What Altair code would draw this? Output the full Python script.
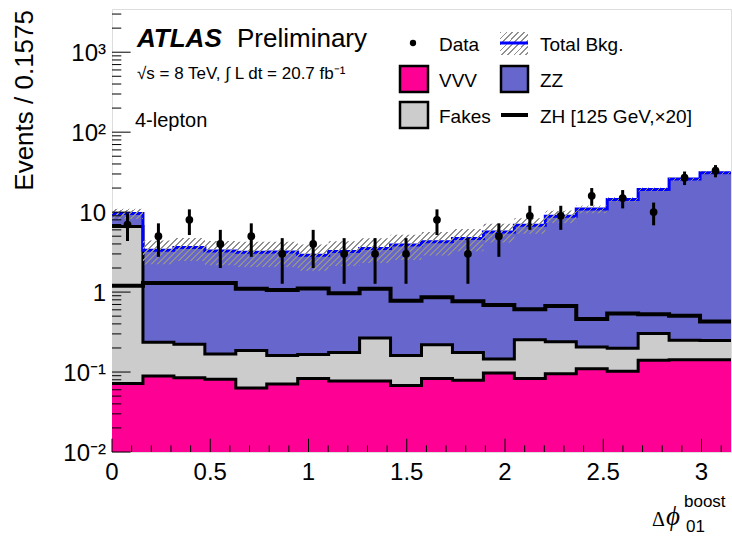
import altair as alt
import pandas as pd

# ---------------------------------------------------------------- data
BIN_WIDTH = 0.1575
N_BINS = 20
edges = [round(i * BIN_WIDTH, 5) for i in range(N_BINS + 1)]
centers = [round((i + 0.5) * BIN_WIDTH, 5) for i in range(N_BINS)]

# expected events per bin, stacked bottom to top
vvv = [0.072, 0.089, 0.085, 0.081, 0.063, 0.071, 0.083, 0.077, 0.077, 0.068,
       0.083, 0.079, 0.097, 0.083, 0.095, 0.110, 0.102, 0.140, 0.142, 0.142]
fakes = [6.53, 0.147, 0.138, 0.087, 0.123, 0.090, 0.083, 0.099, 0.189, 0.093,
         0.137, 0.097, 0.049, 0.170, 0.145, 0.096, 0.096, 0.163, 0.108, 0.106]
zz = [3.0, 3.09, 3.38, 3.10, 2.97, 3.0, 2.73, 3.05, 3.24, 3.71,
      4.04, 4.51, 5.51, 6.62, 8.66, 10.7, 14.2, 18.9, 25.7, 30.8]
# signal overlay (scaled by 20, not stacked)
zh_x20 = [1.2, 1.3, 1.3, 1.3, 1.1, 1.06, 1.11, 0.97, 1.1, 0.78,
          0.86, 0.77, 0.69, 0.61, 0.67, 0.46, 0.54, 0.53, 0.505, 0.43]
# absolute uncertainty on the total background
bkg_unc = [1.4, 1.1, 1.15, 1.1, 1.1, 1.1, 1.05, 1.1, 1.2, 1.35,
           1.4, 1.45, 1.5, 1.5, 1.6, 1.2, 1.0, 1.1, 1.5, 1.5]
# observed data
data_counts = [7, 5, 8, 4, 5, 3, 4, 3, 3, 3, 8, 3, 5, 9, 9, 16, 15, 10, 27, 33]
data_err = [2.65, 2.24, 2.83, 2.0, 2.24, 1.73, 2.0, 1.73, 1.73, 1.73,
            2.83, 1.73, 2.24, 3.0, 3.0, 4.0, 3.87, 3.16, 5.2, 5.74]

# axis ticks and tick labels
x_major = [0, 0.5, 1, 1.5, 2, 2.5, 3]
x_labels = ["0", "0.5", "1", "1.5", "2", "2.5", "3"]
x_minor = [round(0.1 * i, 1) for i in range(1, 32) if i % 5]
y_major = [0.01, 0.1, 1, 10, 100, 1000]
y_labels = ["10⁻²", "10⁻¹", "1", "10", "10²", "10³"]
y_minor = [m * d for d in [0.01, 0.1, 1, 10, 100, 1000] for m in range(2, 10)
           if m * d < 3470]

# ---------------------------------------------------------------- tables
W, H = 619, 443
YMIN, YMAX = 0.01, 3470
PAD_L, PAD_T = 112, 9

fakes_top = [a + b for a, b in zip(vvv, fakes)]
total = [a + b for a, b in zip(fakes_top, zz)]
band_lo = [t - u for t, u in zip(total, bkg_unc)]
band_hi = [t + u for t, u in zip(total, bkg_unc)]


def step(values):
    return values + [values[-1]]


hist = pd.DataFrame({
    "x": edges,
    "vvv": step(vvv),
    "fakes_top": step(fakes_top),
    "total": step(total),
    "zh": step(zh_x20),
    "lo": step(band_lo),
    "hi": step(band_hi),
    "base": [YMIN] * (N_BINS + 1),
})
points = pd.DataFrame({
    "x": centers,
    "n": data_counts,
    "lo": [n - e for n, e in zip(data_counts, data_err)],
    "hi": [n + e for n, e in zip(data_counts, data_err)],
})

xs = alt.Scale(domain=[0, edges[-1]], nice=False, zero=False)
ys = alt.Scale(type="log", domain=[YMIN, YMAX], nice=False)

FONT = "Liberation Sans"


def hatch_fill(w_px, h_px, spacing=6.0, line_frac=0.28, color="#909090", k=1.2):
    """Diagonal '////' hatching as a striped linear gradient over the mark's box."""
    r = h_px / w_px
    span = w_px * k * (1 + r * r)
    period = spacing / span
    clear = "rgba(0,0,0,0)"
    stops = []
    t = 0.0
    while t < 1.0:
        b = min(t + period * line_frac, 1.0)
        c = min(t + period, 1.0)
        stops += [
            alt.GradientStop(color=color, offset=round(t, 5)),
            alt.GradientStop(color=color, offset=round(b, 5)),
            alt.GradientStop(color=clear, offset=round(b, 5)),
            alt.GradientStop(color=clear, offset=round(c, 5)),
        ]
        t += period
    return alt.LinearGradient(gradient="linear", stops=stops,
                              x1=0, y1=0, x2=k, y2=round(k * r, 4))


base = alt.Chart(hist)
X = alt.X("x:Q", scale=xs, axis=None)


def area(top, color):
    return base.mark_area(interpolate="step-after", color=color, opacity=1).encode(
        x=X, y=alt.Y(f"{top}:Q", scale=ys, axis=None), y2="base:Q")


def outline(field, color="black", width=3.0):
    return base.mark_line(interpolate="step-after", color=color, strokeWidth=width,
                          strokeJoin="miter").encode(
        x=X, y=alt.Y(f"{field}:Q", scale=ys, axis=None))


zz_area = area("total", "#6666cc")
fakes_area = area("fakes_top", "#cccccc")
vvv_area = area("vvv", "#ff0094")

band = base.mark_area(interpolate="step-after", fill=hatch_fill(W, 100),
                      strokeWidth=0).encode(
    x=X, y=alt.Y("lo:Q", scale=ys, axis=None), y2="hi:Q")

err = alt.Chart(points).mark_rule(color="black", strokeWidth=3).encode(
    x=alt.X("x:Q", scale=xs, axis=None),
    y=alt.Y("lo:Q", scale=ys, axis=None), y2="hi:Q")
dots = alt.Chart(points).mark_circle(color="black", size=60, opacity=1).encode(
    x=alt.X("x:Q", scale=xs, axis=None),
    y=alt.Y("n:Q", scale=ys, axis=None))

# inward ticks
y_tick_major = alt.Chart(pd.DataFrame({"v": y_major})).mark_rule(
    color="black", strokeWidth=1).encode(
    y=alt.Y("v:Q", scale=ys, axis=None), x=alt.value(0), x2=alt.value(18.6))
y_tick_minor = alt.Chart(pd.DataFrame({"v": y_minor})).mark_rule(
    color="black", strokeWidth=1).encode(
    y=alt.Y("v:Q", scale=ys, axis=None), x=alt.value(0), x2=alt.value(9.3))
x_tick_major = alt.Chart(pd.DataFrame({"v": x_major})).mark_rule(
    color="black", strokeWidth=1).encode(
    x=alt.X("v:Q", scale=xs, axis=None), y=alt.value(H), y2=alt.value(H - 13.3))
x_tick_minor = alt.Chart(pd.DataFrame({"v": x_minor})).mark_rule(
    color="black", strokeWidth=1).encode(
    x=alt.X("v:Q", scale=xs, axis=None), y=alt.value(H), y2=alt.value(H - 6.6))

# tick labels
y_tick_text = alt.Chart(pd.DataFrame({"v": y_major, "t": y_labels})).mark_text(
    align="right", baseline="middle", fontSize=24, font=FONT, color="black",
    dy=2).encode(
    y=alt.Y("v:Q", scale=ys, axis=None), x=alt.value(-6), text="t:N")
x_tick_text = alt.Chart(pd.DataFrame({"v": x_major, "t": x_labels})).mark_text(
    align="center", baseline="alphabetic", fontSize=24, font=FONT,
    color="black").encode(
    x=alt.X("v:Q", scale=xs, axis=None), y=alt.value(H + 28), text="t:N")

# ---------------------------------------------------------------- annotations
one = pd.DataFrame({"a": [0]})


def text(s, x, y, size, **kw):
    props = dict(text=s, align="left", baseline="alphabetic", fontSize=size,
                 font=FONT, color="black")
    props.update(kw)
    return alt.Chart(one).mark_text(**props).encode(
        x=alt.value(x - PAD_L), y=alt.value(y - PAD_T))


def box(x0, y0, x1, y1, fill, stroke="black", sw=2.5):
    return alt.Chart(one).mark_rect(fill=fill, stroke=stroke, strokeWidth=sw).encode(
        x=alt.value(x0 - PAD_L), x2=alt.value(x1 - PAD_L),
        y=alt.value(y0 - PAD_T), y2=alt.value(y1 - PAD_T))


def hline(x0, x1, y, color, sw):
    return alt.Chart(one).mark_rule(color=color, strokeWidth=sw).encode(
        x=alt.value(x0 - PAD_L), x2=alt.value(x1 - PAD_L), y=alt.value(y - PAD_T))


notes = [
    text("ATLAS", 137, 47, 26, fontWeight="bold", fontStyle="italic"),
    text("Preliminary", 237, 47, 26),
    text("√s = 8 TeV, ∫ L dt = 20.7 fb⁻¹", 137, 79, 17),
    text("4-lepton", 135, 127, 20),
    # legend
    alt.Chart(one).mark_circle(color="black", size=40, opacity=1).encode(
        x=alt.value(413 - PAD_L), y=alt.value(43 - PAD_T)),
    text("Data", 439, 51, 19),
    alt.Chart(one).mark_rect(fill=hatch_fill(28, 23), strokeWidth=0).encode(
        x=alt.value(500 - PAD_L), x2=alt.value(528 - PAD_L),
        y=alt.value(32 - PAD_T), y2=alt.value(55 - PAD_T)),
    hline(500, 528, 43, "#0000ff", 3),
    text("Total Bkg.", 540, 51, 19),
    box(400, 66, 428, 92, "#ff0094"),
    text("VVV", 439, 87, 19),
    box(501, 66, 528, 92, "#6666cc"),
    text("ZZ", 540, 87, 19),
    box(400, 102, 428, 128, "#cccccc"),
    text("Fakes", 439, 123, 19),
    hline(501, 528, 115, "black", 4),
    text("ZH [125 GeV,×20]", 540, 123, 19),
    # axis titles
    alt.Chart(one).mark_text(text="Events / 0.1575", align="right", baseline="middle",
                             angle=270, fontSize=26, font=FONT, color="black").encode(
        x=alt.value(25 - PAD_L), y=alt.value(10 - PAD_T)),
    text("Δ", 652, 526, 20, font="Liberation Serif"),
    text("ϕ", 666, 525, 27, font="Liberation Serif", fontStyle="italic"),
    text("boost", 684, 507, 17),
    text("01", 686, 532, 17),
]

chart = alt.layer(
    zz_area, fakes_area, vvv_area,
    outline("vvv"), outline("fakes_top"),
    outline("zh", width=4.0),
    outline("total", color="#0000ff", width=3.0),
    band,
    err, dots,
    y_tick_major, y_tick_minor, x_tick_major, x_tick_minor,
    y_tick_text, x_tick_text,
    *notes,
).properties(
    width=W, height=H,
    padding={"left": PAD_L, "top": PAD_T, "right": 1, "bottom": 86},
    autosize=alt.AutoSizeParams(type="none"),
).configure_view(stroke="black", strokeWidth=1.2).configure(background="white")

chart.save("out.html", embed_options={"renderer": "svg", "actions": False})
